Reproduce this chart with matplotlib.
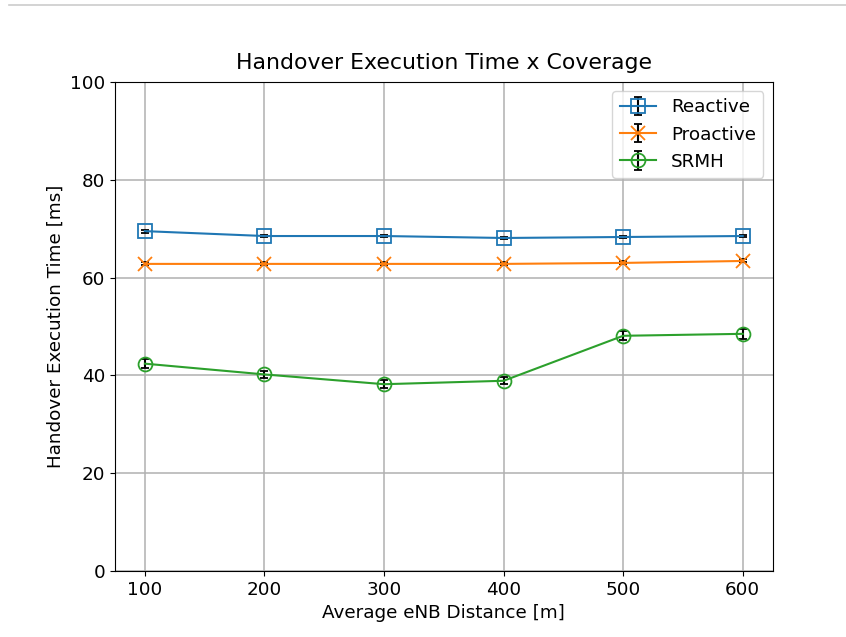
import numpy as np
import matplotlib
matplotlib.use('Agg')
import matplotlib.pyplot as plt
from matplotlib.lines import Line2D

dist = [100, 200, 300, 400, 500, 600]

reactive = [69.5, 68.5, 68.5, 68.1, 68.3, 68.5]
reactive_err = [0.3, 0.3, 0.3, 0.3, 0.3, 0.3]

proactive = [62.8, 62.8, 62.8, 62.8, 63.0, 63.4]
proactive_err = [0.3, 0.3, 0.3, 0.3, 0.3, 0.3]

srmh = [42.4, 40.2, 38.2, 38.9, 48.1, 48.5]
srmh_err = [0.9, 0.8, 0.8, 0.7, 0.9, 1.0]

plt.rcParams['font.size'] = 13.2

fig = plt.figure(figsize=(8.46, 6.37), dpi=100)
ax = fig.add_axes([0.1359, 0.1036, 0.7774, 0.7677])

ax.errorbar(dist, reactive, yerr=reactive_err, marker='s', markersize=10,
            markerfacecolor='none', markeredgewidth=1.3, color='C0',
            ecolor='k', capsize=3, label='Reactive')
ax.errorbar(dist, proactive, yerr=proactive_err, marker='x', markersize=10,
            markeredgewidth=1.3, color='C1', ecolor='k', capsize=3,
            label='Proactive')
ax.errorbar(dist, srmh, yerr=srmh_err, marker='o', markersize=10,
            markerfacecolor='none', markeredgewidth=1.3, color='C2',
            ecolor='k', capsize=3, label='SRMH')

ax.set_ylim(0, 100)
ax.set_xticks(dist)
ax.grid(True, color='#b0b0b0', linewidth=1.1)
ax.set_title('Handover Execution Time x Coverage', pad=9)
ax.set_xlabel('Average eNB Distance [m]')
ax.set_ylabel('Handover Execution Time [ms]')
ax.legend(loc='upper right')

# thin rule along the top edge
fig.add_artist(Line2D([0.011, 1.0], [0.992, 0.992], color='#cccccc', linewidth=1.2))

fig.savefig('out.png', dpi=100)
